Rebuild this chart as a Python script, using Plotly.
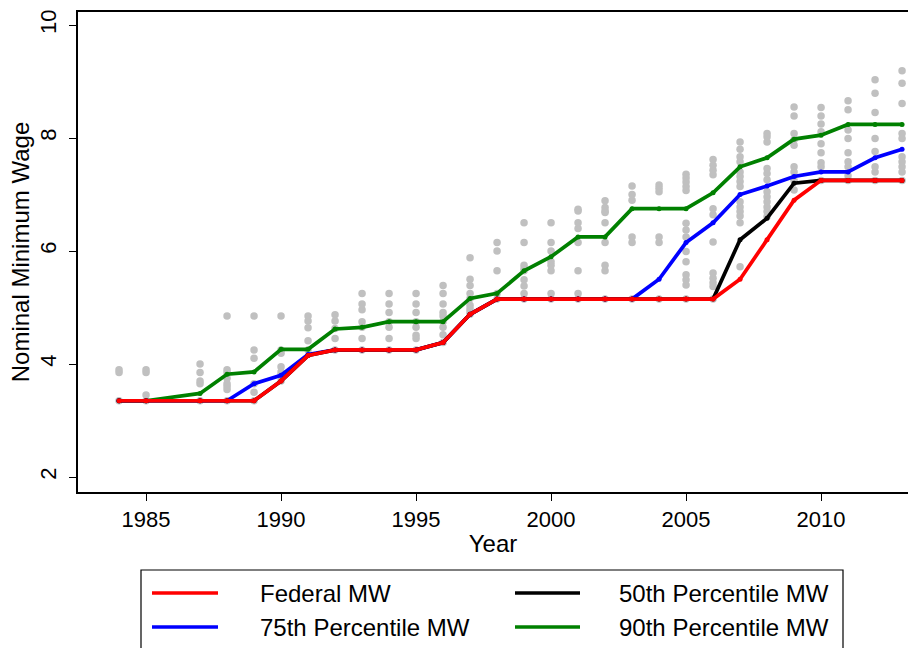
import plotly.graph_objects as go

years = [1984, 1985, 1987, 1988, 1989, 1990, 1991, 1992, 1993, 1994, 1995, 1996,
         1997, 1998, 1999, 2000, 2001, 2002, 2003, 2004, 2005, 2006, 2007, 2008,
         2009, 2010, 2011, 2012, 2013]

federal_mw = [3.35, 3.35, 3.35, 3.35, 3.35, 3.70, 4.15, 4.25, 4.25, 4.25, 4.25, 4.38,
              4.88, 5.15, 5.15, 5.15, 5.15, 5.15, 5.15, 5.15, 5.15, 5.15, 5.50, 6.20,
              6.90, 7.25, 7.25, 7.25, 7.25]

p50_mw = [3.35, 3.35, 3.35, 3.35, 3.35, 3.70, 4.15, 4.25, 4.25, 4.25, 4.25, 4.38,
          4.88, 5.15, 5.15, 5.15, 5.15, 5.15, 5.15, 5.15, 5.15, 5.15, 6.20, 6.58,
          7.20, 7.25, 7.25, 7.25, 7.25]

p75_mw = [3.35, 3.35, 3.35, 3.35, 3.65, 3.80, 4.17, 4.25, 4.25, 4.25, 4.25, 4.38,
          4.88, 5.15, 5.15, 5.15, 5.15, 5.15, 5.15, 5.50, 6.15, 6.50, 7.00, 7.15,
          7.32, 7.40, 7.40, 7.65, 7.80]

p90_mw = [3.35, 3.35, 3.48, 3.82, 3.86, 4.26, 4.26, 4.62, 4.65, 4.75, 4.75, 4.75,
          5.16, 5.25, 5.65, 5.90, 6.25, 6.25, 6.75, 6.75, 6.75, 7.03, 7.49, 7.65,
          7.98, 8.05, 8.24, 8.24, 8.24]

state_mw = {
    1984: [3.35, 3.85, 3.90],
    1985: [3.35, 3.45, 3.85, 3.90],
    1987: [3.35, 3.65, 3.70, 3.85, 4.00],
    1988: [3.35, 3.55, 3.60, 3.65, 3.75, 3.85, 3.90, 4.85],
    1989: [3.35, 3.50, 3.65, 4.10, 4.25, 4.85],
    1990: [3.70, 3.80, 3.86, 3.95, 4.19, 4.25, 4.85],
    1991: [4.25, 4.41, 4.64, 4.76, 4.85],
    1992: [4.25, 4.45, 4.63, 4.76, 4.87],
    1993: [4.25, 4.45, 4.65, 4.75, 4.96, 5.06, 5.25],
    1994: [4.25, 4.45, 4.65, 4.75, 4.91, 5.06, 5.25],
    1995: [4.25, 4.45, 4.51, 4.65, 4.75, 4.91, 5.06, 5.25],
    1996: [4.38, 4.52, 4.65, 4.75, 4.85, 4.91, 5.06, 5.25, 5.39],
    1997: [4.88, 4.93, 4.98, 5.04, 5.16, 5.25, 5.39, 5.50, 5.88],
    1998: [5.15, 5.25, 5.65, 6.00, 6.15],
    1999: [5.15, 5.25, 5.38, 5.49, 5.65, 5.69, 5.75, 6.15, 6.50],
    2000: [5.15, 5.25, 5.65, 5.75, 5.81, 6.00, 6.15, 6.50],
    2001: [5.15, 5.25, 5.65, 6.15, 6.40, 6.50, 6.71, 6.74],
    2002: [5.15, 5.65, 5.75, 6.15, 6.50, 6.68, 6.71, 6.77, 6.89],
    2003: [5.15, 6.15, 6.25, 6.90, 7.00, 7.15],
    2004: [5.15, 6.15, 6.25, 7.05, 7.11, 7.17],
    2005: [5.15, 5.40, 5.49, 5.58, 5.81, 5.99, 6.25, 6.37, 6.49, 7.07, 7.14, 7.22, 7.29, 7.36],
    2006: [5.15, 5.37, 5.44, 5.52, 5.61, 6.16, 6.64, 6.75, 7.35, 7.43, 7.52, 7.62],
    2007: [5.72, 6.50, 6.62, 6.70, 6.78, 6.87, 7.14, 7.23, 7.32, 7.40, 7.58, 7.67, 7.80, 7.93],
    2008: [6.61, 6.70, 6.78, 6.87, 6.96, 7.05, 7.26, 7.37, 7.46, 7.93, 8.02, 8.08],
    2009: [7.08, 7.25, 7.40, 7.49, 7.87, 7.97, 8.08, 8.39, 8.55],
    2010: [7.25, 7.49, 7.56, 7.74, 7.90, 8.11, 8.25, 8.39, 8.54],
    2011: [7.25, 7.33, 7.49, 7.58, 7.74, 7.99, 8.14, 8.50, 8.66],
    2012: [7.25, 7.40, 7.49, 7.76, 7.99, 8.45, 8.79, 9.03],
    2013: [7.25, 7.40, 7.49, 7.58, 7.67, 7.99, 8.08, 8.61, 8.97, 9.19],
}

x_ticks = [1985, 1990, 1995, 2000, 2005, 2010]
y_ticks = [2, 4, 6, 8, 10]

series = [
    ("Federal MW", federal_mw, "#ff0000"),
    ("50th Percentile MW", p50_mw, "#000000"),
    ("75th Percentile MW", p75_mw, "#0000ff"),
    ("90th Percentile MW", p90_mw, "#008000"),
]

FONT = "Liberation Sans, Arial, Helvetica, sans-serif"

dot_x = [y for y, vals in state_mw.items() for _ in vals]
dot_y = [v for vals in state_mw.values() for v in vals]

fig = go.Figure()
fig.add_trace(go.Scatter(
    x=dot_x, y=dot_y, mode="markers",
    marker=dict(size=7.5, color="#c0c0c0"),
    showlegend=False, hoverinfo="skip", name="State MW"))

# draw order: green, blue, black, red on top
for name, vals, col in [series[3], series[2], series[1], series[0]]:
    fig.add_trace(go.Scatter(
        x=years, y=vals, mode="lines+markers", name=name,
        line=dict(color=col, width=3.7),
        marker=dict(size=5, color=col),
        showlegend=False))

# Manual legend (paper coords; plot area = 830 x 480 px)
PW, PH, L, T = 830.0, 480.0, 78.0, 12.0
def px(x):
    return (x - L) / PW
def py(y):
    return (T + PH - y) / PH

shapes = [dict(type="rect", xref="paper", yref="paper",
               x0=px(141), x1=px(843), y0=py(570), y1=py(670),
               line=dict(color="#000000", width=1.2), fillcolor="rgba(0,0,0,0)")]
annotations = []
legend_pos = [(152, 218, 258, 593), (515, 580, 617, 593),
              (152, 218, 258, 627), (515, 580, 617, 627)]
legend_order = [series[0], series[1], series[2], series[3]]
for (name, _, col), (lx0, lx1, tx, ly) in zip(legend_order, legend_pos):
    shapes.append(dict(type="line", xref="paper", yref="paper",
                       x0=px(lx0), x1=px(lx1), y0=py(ly), y1=py(ly),
                       line=dict(color=col, width=3.5)))
    annotations.append(dict(xref="paper", yref="paper", x=px(tx), y=py(ly),
                            text=name, showarrow=False, xanchor="left",
                            yanchor="middle", font=dict(family=FONT, size=24, color="#000")))

fig.update_layout(
    width=908, height=648,
    margin=dict(l=78, r=0, t=12, b=156, autoexpand=False),
    paper_bgcolor="white", plot_bgcolor="white",
    font=dict(family=FONT, size=22, color="#000"),
    showlegend=False,
    shapes=shapes, annotations=annotations,
    xaxis=dict(range=[1982.48, 2013.22], tickvals=x_ticks, ticks="outside",
               ticklen=7, tickwidth=1.2, tickcolor="#000",
               showline=True, linecolor="#000", linewidth=1.5, mirror=True,
               showgrid=False, zeroline=False, automargin=False,
               title=dict(text="Year", font=dict(size=24), standoff=4),
               tickfont=dict(size=22)),
    yaxis=dict(range=[1.735, 10.23], tickvals=y_ticks, ticks="outside",
               ticklen=7, tickwidth=1.2, tickcolor="#000", tickangle=-90,
               showline=True, linecolor="#000", linewidth=1.5, mirror=False,
               showgrid=False, zeroline=False, automargin=False,
               ticklabelstandoff=4,
               title=dict(text="Nominal Minimum Wage", font=dict(size=24), standoff=0),
               tickfont=dict(size=22)),
)

fig.write_html("out.html", config={"displayModeBar": False},
               post_script="document.body.style.margin='0px';")
